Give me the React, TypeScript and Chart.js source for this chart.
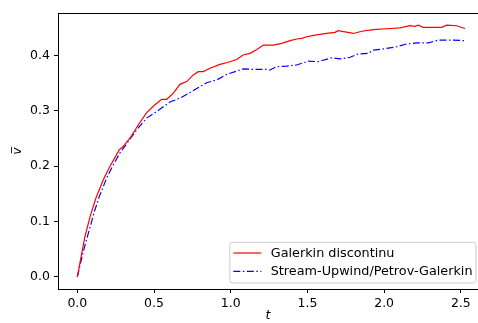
import React, { useEffect, useRef } from "react";
import { Chart, registerables } from "chart.js";

Chart.register(...registerables);

const redT = [0, 0.029, 0.05, 0.083, 0.122, 0.17, 0.213, 0.274, 0.3, 0.344, 0.398, 0.452, 0.506, 0.55, 0.583, 0.626, 0.669, 0.713, 0.756, 0.789, 0.821, 0.865, 0.93, 0.984, 1.039, 1.08, 1.126, 1.17, 1.213, 1.278, 1.332, 1.387, 1.43, 1.463, 1.495, 1.55, 1.626, 1.68, 1.7, 1.8, 1.854, 1.93, 2.04, 2.104, 2.169, 2.2, 2.223, 2.255, 2.343, 2.375, 2.408, 2.473, 2.527];
const redV = [0, 0.043, 0.073, 0.109, 0.143, 0.176, 0.2, 0.23, 0.236, 0.251, 0.275, 0.297, 0.311, 0.321, 0.321, 0.332, 0.348, 0.353, 0.365, 0.371, 0.371, 0.377, 0.384, 0.388, 0.393, 0.401, 0.404, 0.411, 0.419, 0.419, 0.422, 0.427, 0.43, 0.431, 0.434, 0.437, 0.44, 0.442, 0.445, 0.44, 0.444, 0.447, 0.449, 0.45, 0.454, 0.453, 0.455, 0.451, 0.451, 0.451, 0.455, 0.454, 0.449];

const blueT = [0, 0.039, 0.072, 0.109, 0.143, 0.192, 0.235, 0.278, 0.333, 0.387, 0.452, 0.518, 0.604, 0.669, 0.734, 0.8, 0.843, 0.909, 0.974, 1.039, 1.082, 1.147, 1.235, 1.256, 1.3, 1.365, 1.43, 1.506, 1.571, 1.658, 1.713, 1.778, 1.832, 1.897, 1.93, 1.995, 2.082, 2.147, 2.212, 2.288, 2.353, 2.451, 2.527];
const blueV = [0, 0.046, 0.079, 0.116, 0.145, 0.179, 0.203, 0.224, 0.245, 0.266, 0.287, 0.299, 0.316, 0.323, 0.333, 0.344, 0.351, 0.356, 0.366, 0.372, 0.376, 0.375, 0.375, 0.374, 0.38, 0.381, 0.383, 0.39, 0.389, 0.396, 0.394, 0.397, 0.403, 0.404, 0.41, 0.412, 0.416, 0.421, 0.423, 0.423, 0.428, 0.428, 0.427];

const xTicks = [0, 0.5, 1.0, 1.5, 2.0, 2.5];
const yTicks = [0, 0.1, 0.2, 0.3, 0.4];

const seriesLabels = ["Galerkin discontinu", "Stream-Upwind/Petrov-Galerkin"];
const seriesColors = ["#ff0000", "#0000ff"];
const DASHDOT = [7, 2.5, 1.5, 2.5];

const FONT = "DejaVu Sans";
const FS = 12.5;
const LEGEND_FS = 12.8;

const frameAndLegend = {
  id: "frameAndLegend",
  afterDraw(chart: any) {
    const ctx = chart.ctx;
    const ca = chart.chartArea;
    ctx.save();
    // top spine
    ctx.strokeStyle = "#000";
    ctx.lineWidth = 1;
    ctx.beginPath();
    ctx.moveTo(ca.left, ca.top + 0.5);
    ctx.lineTo(ca.right, ca.top + 0.5);
    ctx.stroke();

    // legend
    ctx.font = `${LEGEND_FS}px "${FONT}"`;
    const textW = Math.max(...seriesLabels.map((s) => ctx.measureText(s).width));
    const pad = 3.5;
    const handle = 28;
    const gap = 9.4;
    const rowH = 18.4;
    const right = ca.right - 2;
    const bottom = ca.bottom - 6;
    const w = pad + handle + gap + textW + pad;
    const h = 40.6;
    const left = right - w;
    const top = bottom - h;
    const r = 2.5;
    ctx.beginPath();
    ctx.moveTo(left + r, top);
    ctx.lineTo(right - r, top);
    ctx.arcTo(right, top, right, top + r, r);
    ctx.lineTo(right, bottom - r);
    ctx.arcTo(right, bottom, right - r, bottom, r);
    ctx.lineTo(left + r, bottom);
    ctx.arcTo(left, bottom, left, bottom - r, r);
    ctx.lineTo(left, top + r);
    ctx.arcTo(left, top, left + r, top, r);
    ctx.closePath();
    ctx.fillStyle = "rgba(255,255,255,0.8)";
    ctx.fill();
    ctx.strokeStyle = "#cccccc";
    ctx.lineWidth = 1;
    ctx.stroke();

    seriesLabels.forEach((lab, i) => {
      const y = top + 10.6 + i * rowH;
      ctx.beginPath();
      ctx.strokeStyle = seriesColors[i];
      ctx.lineWidth = 1.2;
      ctx.setLineDash(i === 1 ? DASHDOT : []);
      ctx.moveTo(left + pad, y);
      ctx.lineTo(left + pad + handle, y);
      ctx.stroke();
      ctx.setLineDash([]);
      ctx.fillStyle = "#000";
      ctx.textBaseline = "middle";
      ctx.textAlign = "left";
      ctx.fillText(lab, left + pad + handle + gap, y + 0.5);
    });
    ctx.restore();
  },
};

export default function App() {
  const ref = useRef<HTMLCanvasElement>(null);
  useEffect(() => {
    document.body.style.margin = "0";
    const canvas = ref.current!;
    const chart = new Chart(canvas, {
      type: "line",
      data: {
        datasets: [
          {
            label: seriesLabels[0],
            data: redT.map((t, i) => ({ x: t, y: redV[i] })),
            borderColor: seriesColors[0],
            borderWidth: 1.2,
            pointRadius: 0,
            tension: 0,
            fill: false,
          },
          {
            label: seriesLabels[1],
            data: blueT.map((t, i) => ({ x: t, y: blueV[i] })),
            borderColor: seriesColors[1],
            borderWidth: 1.2,
            borderDash: DASHDOT,
            pointRadius: 0,
            tension: 0,
            fill: false,
          },
        ],
      },
      options: {
        responsive: false,
        animation: false,
        devicePixelRatio: 1,
        layout: { padding: { top: 13, right: 0, bottom: 0, left: 0 } },
        plugins: { legend: { display: false }, tooltip: { enabled: false } },
        scales: {
          x: {
            type: "linear",
            min: -0.126,
            max: 2.612,
            afterBuildTicks: (s: any) => {
              s.ticks = xTicks.map((v) => ({ value: v }));
            },
            afterFit: (s: any) => {
              s.height = 34;
            },
            grid: { display: true, drawOnChartArea: false, drawTicks: true, tickLength: 4, color: "#000" },
            border: { display: true, color: "#000", width: 1 },
            ticks: {
              color: "#000",
              font: { family: FONT, size: FS },
              padding: 3,
              maxRotation: 0,
              autoSkip: false,
              callback: (v: any) => Number(v).toFixed(1),
            },
            title: {
              display: true,
              text: "t",
              color: "#000",
              font: { family: FONT, size: FS, style: "italic" },
              padding: 0,
            },
          },
          y: {
            type: "linear",
            min: -0.022,
            max: 0.477,
            afterBuildTicks: (s: any) => {
              s.ticks = yTicks.map((v) => ({ value: v }));
            },
            afterFit: (s: any) => {
              s.width = 58;
            },
            grid: { display: true, drawOnChartArea: false, drawTicks: true, tickLength: 4, color: "#000" },
            border: { display: true, color: "#000", width: 1 },
            ticks: {
              color: "#000",
              font: { family: FONT, size: FS },
              padding: 4,
              autoSkip: false,
              callback: (v: any) => Number(v).toFixed(1),
            },
            title: {
              display: true,
              text: "v\u0305",
              color: "#000",
              font: { family: FONT, size: FS, style: "italic" },
              padding: { top: 10, bottom: 0 },
            },
          },
        },
      },
      plugins: [frameAndLegend],
    });
    return () => chart.destroy();
  }, []);
  return <canvas ref={ref} width={478} height={323} style={{ display: "block" }} />;
}
